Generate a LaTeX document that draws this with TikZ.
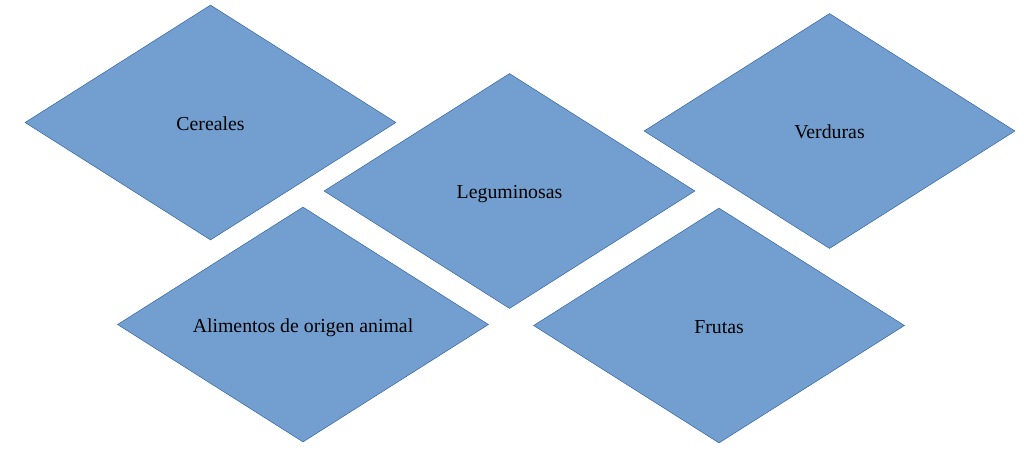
\documentclass[tikz,border=0pt]{standalone}
\usepackage{fontspec}
\setmainfont{Liberation Serif}
\usetikzlibrary{shapes.geometric}
\definecolor{dfill}{HTML}{729FCF}
\definecolor{dline}{HTML}{3465A4}
\begin{document}
\begin{tikzpicture}[x=1pt,y=-1pt,
  dia/.style={diamond, aspect=1.58, fill=dfill, draw=dline, line width=0.5pt, inner sep=0pt,
    minimum width=371pt, minimum height=235pt, text height=15pt, text depth=0pt,
    font=\fontsize{19.8}{23}\selectfont, text=black}]
\useasboundingbox (0,0) rectangle (1024,475);
\node[dia] (cer) at (210.5,122.5) {Cereales};
\node[dia] (leg) at (509.5,191) {Leguminosas};
\node[dia] (ver) at (829.5,131) {Verduras};
\node[dia] (ali) at (303,324.5) {Alimentos de origen animal\hspace{4pt}};
\node[dia] (fru) at (719,325.5) {Frutas\hspace{4pt}};
\end{tikzpicture}
\end{document}
